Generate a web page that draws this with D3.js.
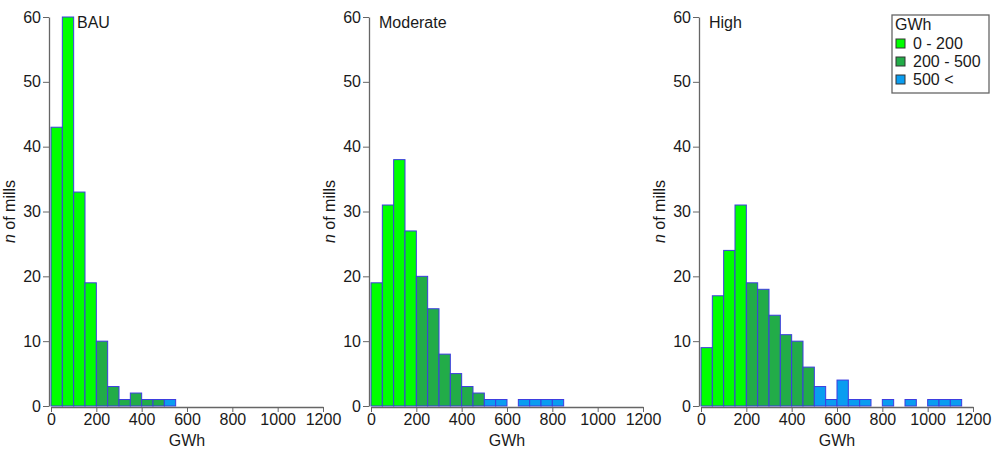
<!DOCTYPE html>
<html>
<head>
<meta charset="utf-8">
<script src="https://cdn.jsdelivr.net/npm/d3@7"></script>
<style>
  body { margin: 0; background: #fff; }
  svg { font-family: Arial, "Liberation Sans", sans-serif; }
</style>
</head>
<body>
<div id="chart"></div>
<script>
// bins are 50 GWh wide, starting at 0
const binWidth = 50;
const bauCounts = [43, 60, 33, 19, 10, 3, 1, 2, 1, 1, 1];
const moderateCounts = [19, 31, 38, 27, 20, 15, 8, 5, 3, 2, 1, 1, 0, 1, 1, 1, 1];
const highCounts = [9, 17, 24, 31, 19, 18, 14, 11, 10, 6, 3, 1, 4, 1, 1, 0, 1, 0, 1, 0, 1, 1, 1];
const scenarios = ["BAU", "Moderate", "High"];
const legendLabels = ["0 - 200", "200 - 500", "500 <"];
const xTicks = [0, 200, 400, 600, 800, 1000, 1200];
const yTicks = [0, 10, 20, 30, 40, 50, 60];

const colors = ["#00ff00", "#22ac48", "#0a9df0"];
function binColor(start) {
    if (start < 200) return colors[0];
    if (start < 500) return colors[1];
    return colors[2];
}

const fs = 16;
const width = 997, height = 450;
const svg = d3.select("#chart").append("svg")
    .attr("width", width)
    .attr("height", height);

const panelX = [51, 371, 701]; // left of the x range (0 GWh)
const panelW = 272;
const plotTop = 17, plotBottom = 406;

const allCounts = [bauCounts, moderateCounts, highCounts];

allCounts.forEach((counts, i) => {
    const x = d3.scaleLinear().domain([0, 1200]).range([panelX[i], panelX[i] + panelW]);
    const y = d3.scaleLinear().domain([0, 60]).range([plotBottom, plotTop]);
    const g = svg.append("g");

    const bins = counts.map((c, k) => ({ x0: k * binWidth, x1: (k + 1) * binWidth, n: c }))
        .filter(d => d.n > 0);

    g.selectAll("rect")
        .data(bins)
        .enter()
        .append("rect")
        .attr("x", d => x(d.x0))
        .attr("width", d => x(d.x1) - x(d.x0))
        .attr("y", d => y(d.n))
        .attr("height", d => y(0) - y(d.n))
        .attr("fill", d => binColor(d.x0))
        .attr("stroke", "#3c3ce0")
        .attr("stroke-width", 1);

    // y axis
    const yAxis = g.append("g")
        .attr("transform", `translate(${panelX[i] - 2},0)`)
        .call(d3.axisLeft(y).tickValues(yTicks).tickFormat(d3.format("d")).tickSize(6).tickSizeOuter(0));
    // x axis
    const xAxis = g.append("g")
        .attr("transform", `translate(0,${plotBottom + 1})`)
        .call(d3.axisBottom(x).tickValues(xTicks).tickFormat(d3.format("d")).tickSize(5).tickSizeOuter(0));

    [yAxis, xAxis].forEach(a => {
        a.select(".domain").attr("stroke", "#666").attr("stroke-width", 1.3);
        a.selectAll(".tick line").attr("stroke", "#666");
        a.selectAll("text").attr("font-size", fs).attr("fill", "#1a1a1a")
            .attr("font-family", "Arial, 'Liberation Sans', sans-serif");
    });
    yAxis.selectAll("text").attr("x", -8);
    xAxis.selectAll("text").attr("y", 7);

    g.append("text")
        .attr("x", panelX[i] + panelW / 2)
        .attr("y", 446)
        .attr("text-anchor", "middle")
        .attr("font-size", fs)
        .attr("fill", "#1a1a1a")
        .text("GWh");

    const yl = g.append("text")
        .attr("transform", `translate(${panelX[i] - 36},${(plotTop + plotBottom) / 2}) rotate(-90)`)
        .attr("text-anchor", "middle")
        .attr("font-size", fs)
        .attr("fill", "#1a1a1a");
    yl.append("tspan").attr("font-style", "italic").text("n");
    yl.append("tspan").text(" of mills");

    g.append("text")
        .attr("x", panelX[i] + (i === 0 ? 26 : 8))
        .attr("y", 28)
        .attr("font-size", fs)
        .attr("fill", "#1a1a1a")
        .text(scenarios[i]);
});

// legend
const lg = svg.append("g").attr("transform", "translate(892,15)");
lg.append("rect")
    .attr("width", 97).attr("height", 78)
    .attr("fill", "#fff").attr("stroke", "#666").attr("stroke-width", 1.3);
lg.append("text").attr("x", 3).attr("y", 15)
    .attr("font-size", fs).attr("fill", "#1a1a1a").text("GWh");
legendLabels.forEach((l, k) => {
    lg.append("rect")
        .attr("x", 4).attr("y", 24 + k * 18)
        .attr("width", 9).attr("height", 9)
        .attr("fill", colors[k]).attr("stroke", "#333");
    lg.append("text")
        .attr("x", 21).attr("y", 34 + k * 18)
        .attr("font-size", fs).attr("fill", "#1a1a1a").text(l);
});
</script>
</body>
</html>
